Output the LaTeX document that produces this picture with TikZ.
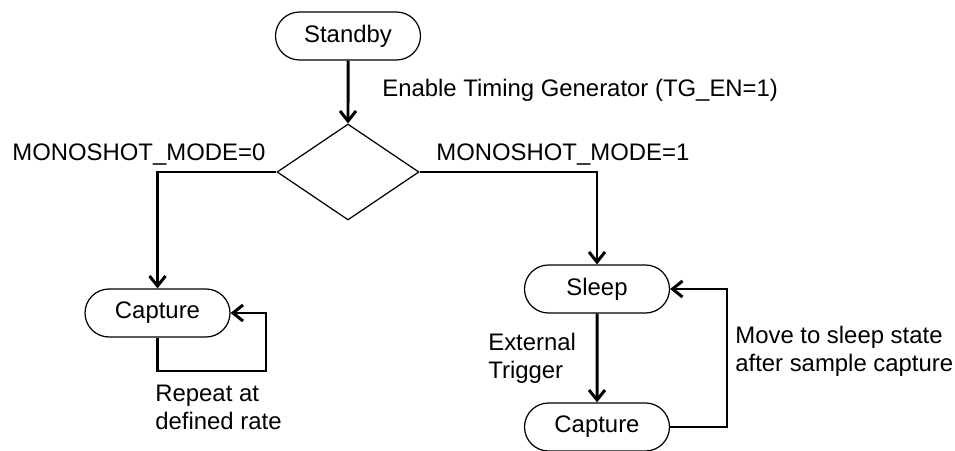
\documentclass[tikz,border=0pt]{standalone}
\usepackage{fontspec}
\setmainfont{Liberation Sans}
\usetikzlibrary{shapes.misc,shapes.geometric,arrows.meta}

\tikzset{
	state/.style={rounded rectangle, draw, line width=0.7pt, minimum width=2.9cm, minimum height=0.96cm, inner sep=0pt},
	choice/.style={diamond, draw, line width=0.7pt, minimum width=2.84cm, minimum height=1.92cm, inner sep=0pt},
	flow/.style={line width=1.7pt, -{Straight Barb[length=2mm,width=3.2mm,line width=1.7pt]}},
	note/.style={inner sep=0pt, align=left}
}

\begin{document}
\begin{tikzpicture}[font=\fontsize{13.6}{15.6}\selectfont]
	\useasboundingbox (0,0) rectangle (19.1,9);

	\node[state] (standby) at (6.96,8.28) {Standby};
	\node[choice] (mode) at (6.96,5.56) {};
	\node[state] (capL) at (3.15,2.74) {Capture};
	\node[state] (sleep) at (11.94,3.22) {Sleep};
	\node[state] (capR) at (11.94,0.46) {Capture};

	\coordinate (repA) at (3.15,1.58);
	\coordinate (repB) at (5.32,1.58);
	\coordinate (movA) at (14.54,0.46);

	\node[note, anchor=base west] (enable) at (7.64,7.06) {Enable Timing Generator (TG\_EN=1)};
	\node[note, anchor=base west] (mode1) at (8.72,5.78) {MONOSHOT\_MODE=1};
	\node[note, anchor=base west] (mode0) at (0.24,5.78) {MONOSHOT\_MODE=0};
	\node[note, anchor=north west] (repeat) at (3.10,1.30) {Repeat at\\defined rate};
	\node[note, anchor=north west] (trigger) at (9.76,2.34) {External\\Trigger};
	\node[note, anchor=north west] (move) at (14.70,2.48) {Move to sleep state\\after sample capture};

	\path [flow] (standby) edge (mode);
	\draw [flow] (mode.west) -| (capL.north);
	\draw [flow] (mode.east) -| (sleep.north);
	\draw [flow] (capL.south) -- (repA) -- (repB) |- (capL.east);
	\path [flow] (sleep) edge (capR);
	\draw [flow] (capR.east) -- (movA) |- (sleep.east);
\end{tikzpicture}
\end{document}
